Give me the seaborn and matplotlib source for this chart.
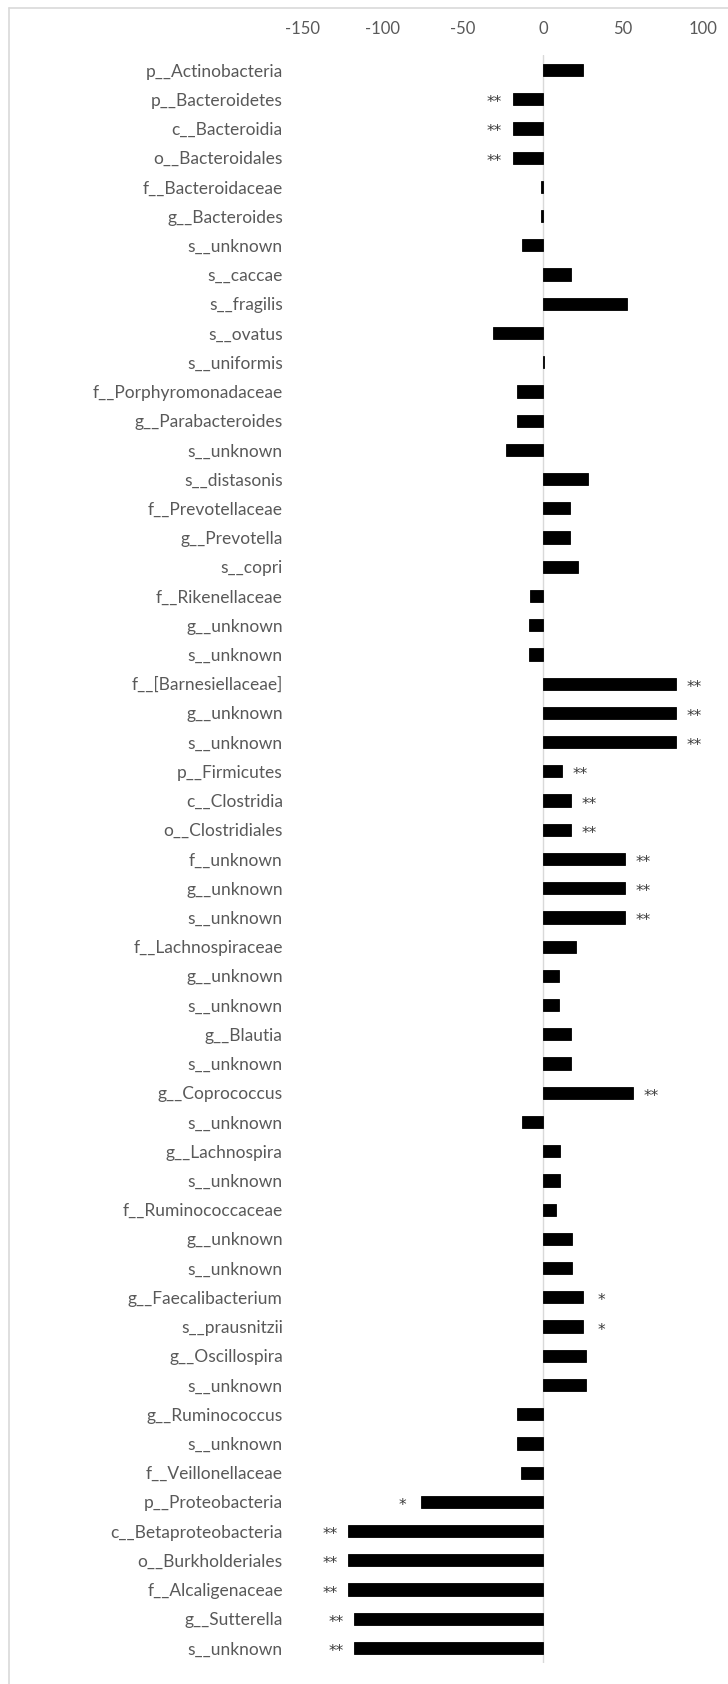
import numpy as np
import pandas as pd
import matplotlib
matplotlib.use("Agg")
import matplotlib.pyplot as plt
import seaborn as sns

taxa = [
    "p__Actinobacteria", "p__Bacteroidetes", "c__Bacteroidia", "o__Bacteroidales",
    "f__Bacteroidaceae", "g__Bacteroides", "s__unknown", "s__caccae", "s__fragilis",
    "s__ovatus", "s__uniformis", "f__Porphyromonadaceae", "g__Parabacteroides",
    "s__unknown", "s__distasonis", "f__Prevotellaceae", "g__Prevotella", "s__copri",
    "f__Rikenellaceae", "g__unknown", "s__unknown", "f__[Barnesiellaceae]",
    "g__unknown", "s__unknown", "p__Firmicutes", "c__Clostridia", "o__Clostridiales",
    "f__unknown", "g__unknown", "s__unknown", "f__Lachnospiraceae", "g__unknown",
    "s__unknown", "g__Blautia", "s__unknown", "g__Coprococcus", "s__unknown",
    "g__Lachnospira", "s__unknown", "f__Ruminococcaceae", "g__unknown", "s__unknown",
    "g__Faecalibacterium", "s__prausnitzii", "g__Oscillospira", "s__unknown",
    "g__Ruminococcus", "s__unknown", "f__Veillonellaceae", "p__Proteobacteria",
    "c__Betaproteobacteria", "o__Burkholderiales", "f__Alcaligenaceae",
    "g__Sutterella", "s__unknown",
]

change = [
    25, -19, -19, -19, -1, -1, -13, 17.5, 52.5, -31, 0.7, -16, -16, -23, 28,
    16.7, 16.7, 22, -8, -9, -9, 83, 83, 83, 12, 17.5, 17.5, 51.5, 51.5, 51.5,
    20.4, 9.8, 9.8, 17.5, 17.5, 56.3, -13, 10.6, 10.6, 8, 18.4, 18.4, 25, 25,
    26.7, 26.7, -16.4, -16.4, -13.8, -76.4, -122, -122, -122, -118, -118,
]

stars = [
    "", "**", "**", "**", "", "", "", "", "", "", "", "", "", "", "",
    "", "", "", "", "", "", "**", "**", "**", "**", "**", "**", "**", "**", "**",
    "", "", "", "", "", "**", "", "", "", "", "", "", "*", "*",
    "", "", "", "", "", "*", "**", "**", "**", "**", "**",
]

xticks = [-150, -100, -50, 0, 50, 100]

df = pd.DataFrame({"key": [f"{i:02d}" for i in range(len(taxa))],
                   "taxon": taxa, "value": change, "sig": stars})

sns.set_theme(style="white")
plt.rcParams["font.family"] = ["Lato", "DejaVu Sans"]
grey = "#595959"

fig = plt.figure(figsize=(7.28, 16.84), dpi=100)
ax = fig.add_axes([303 / 728, 1 - 1662.6 / 1684, 400 / 728, 1607.2 / 1684])

ax.axvline(0, color="#d9d9d9", lw=1, zorder=0)
sns.barplot(data=df, x="value", y="key", orient="h", color="black",
            saturation=1, width=0.42, edgecolor="black", linewidth=0.6,
            ax=ax, zorder=2)

for i, row in df.iterrows():
    if row["sig"]:
        off = 13 if row["value"] > 0 else -13
        ax.annotate(row["sig"], xy=(row["value"], i), xytext=(off, -2.5),
                    textcoords="offset points", ha="center", va="center",
                    fontsize=11, color="#3a3a3a", family="DejaVu Sans")

ax.set_xlim(-150, 100)
ax.set_xticks(xticks)
ax.set_xticklabels([str(t) for t in xticks])
ax.xaxis.tick_top()
ax.set_yticks(range(len(taxa)))
ax.set_yticklabels(taxa)
ax.tick_params(axis="x", length=0, pad=13, labelsize=12, labelcolor=grey)
ax.tick_params(axis="y", length=0, pad=14.5, labelsize=12.5, labelcolor=grey)
ax.set_xlabel("")
ax.set_ylabel("")
for s in ax.spines.values():
    s.set_visible(False)

# chart-area border (top and left edges visible in the crop)
fig.add_artist(plt.Line2D([9 / 728, 1], [1 - 8 / 1684] * 2, color="#d9d9d9", lw=1.2,
                          transform=fig.transFigure))
fig.add_artist(plt.Line2D([9 / 728] * 2, [0, 1 - 8 / 1684], color="#d9d9d9", lw=1.2,
                          transform=fig.transFigure))

fig.savefig("out.png", dpi=100)
